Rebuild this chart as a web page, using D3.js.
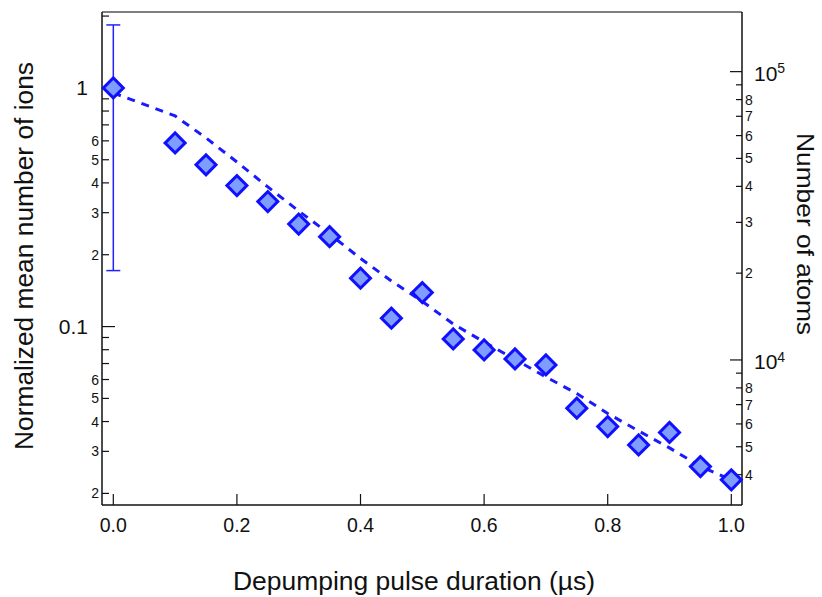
<!DOCTYPE html>
<html><head><meta charset="utf-8">
<script src="https://cdn.jsdelivr.net/npm/d3@7"></script>
<style>body{margin:0;background:#fff}svg{display:block}text{font-family:"Liberation Sans",Arial,sans-serif;fill:#111}</style>
</head><body>
<script>
// Data
const durations = [0.0,0.1,0.15,0.2,0.25,0.3,0.35,0.4,0.45,0.5,0.55,0.6,0.65,0.7,0.75,0.8,0.85,0.9,0.95,1.0];
const ions = [1.0,0.588,0.476,0.390,0.334,0.269,0.238,0.1595,0.1084,0.1388,0.0888,0.0798,0.0732,0.0691,0.0455,0.0381,0.0319,0.0360,0.0259,0.0228];
const atoms = [84350,70200,58880,48610,39820,32860,27340,22490,18790,15960,13330,11540,10040,8730,7650,6524,5671,4954,4272,3835];
const errX = [0.0];
const errLow = [0.1716];
const errHigh = [1.836];
const xTicks = [0.0,0.2,0.4,0.6,0.8,1.0];
const leftMajor = [1, 0.1];
const leftMinorLabeled = [0.6,0.5,0.4,0.3,0.2,0.06,0.05,0.04,0.03,0.02];
const rightMajor = [1e5, 1e4];

const W=822,H=597;
const L=102,R=742,T=12,B=505;
const svg=d3.select("body").append("svg").attr("width",W).attr("height",H);

const x=d3.scaleLinear().domain([-0.0183,1.0173]).range([L,R]);
const yL=d3.scaleLog().domain([0.01788,2.08]).range([B,T]);
const yR=d3.scaleLog().domain([3140,161000]).range([B,T]);

// frame
svg.append("line").attr("x1",L).attr("x2",R).attr("y1",T).attr("y2",T).attr("stroke","#555").attr("stroke-width",1.5);

const firstDigit=d=>String(Math.round(d/Math.pow(10,Math.floor(Math.log10(d)+1e-9))));

// Left axis
const leftTicks=[];
for(let d=-2; d<=0; d++){ for(let m=1;m<=9;m++){ const v=m*Math.pow(10,d); if(v>=0.0179 && v<=2.08) leftTicks.push(v);} }
const gL=svg.append("g");
gL.append("line").attr("x1",L).attr("x2",L).attr("y1",T).attr("y2",B).attr("stroke","#111").attr("stroke-width",1.5);
gL.selectAll("line.t").data(leftTicks).join("line").attr("class","t")
  .attr("x1",L).attr("x2",d=>L+(leftMajor.includes(d)?13:7))
  .attr("y1",d=>yL(d)).attr("y2",d=>yL(d)).attr("stroke","#111").attr("stroke-width",1.2);
gL.selectAll("text.maj").data(leftMajor).join("text").attr("class","maj")
  .attr("x",88).attr("y",d=>yL(d)).attr("dy","0.36em").attr("text-anchor","end")
  .style("font-size","21px").text(d=>d===1?"1":"0.1");
gL.selectAll("text.min").data(leftMinorLabeled).join("text").attr("class","min")
  .attr("x",99).attr("y",d=>yL(d)).attr("dy","0.36em").attr("text-anchor","end")
  .style("font-size","14px").text(firstDigit);

// Right axis
const rightTicks=[];
for(let d=3; d<=5; d++){ for(let m=1;m<=9;m++){ const v=m*Math.pow(10,d); if(v>=3140 && v<=161000) rightTicks.push(v);} }
const gR=svg.append("g");
gR.append("line").attr("x1",R).attr("x2",R).attr("y1",T).attr("y2",B).attr("stroke","#111").attr("stroke-width",1.5);
gR.selectAll("line.t").data(rightTicks).join("line").attr("class","t")
  .attr("x1",R).attr("x2",d=>R-(rightMajor.includes(d)?12:6))
  .attr("y1",d=>yR(d)).attr("y2",d=>yR(d)).attr("stroke","#111").attr("stroke-width",1.2);
const rMinorLab=rightTicks.filter(d=>!rightMajor.includes(d) && firstDigit(d)!=="9");
gR.selectAll("text.min").data(rMinorLab).join("text").attr("class","min")
  .attr("x",745).attr("y",d=>yR(d)).attr("dy","0.36em")
  .style("font-size","14px").text(firstDigit);
const rm=gR.selectAll("text.maj").data(rightMajor).join("text").attr("class","maj")
  .attr("x",754).attr("y",d=>yR(d)).attr("dy","0.45em").style("font-size","21px");
rm.append("tspan").text("10");
rm.append("tspan").attr("dy","-0.55em").style("font-size","14px").text(d=>String(Math.round(Math.log10(d))));

// Bottom axis
const gB=svg.append("g");
gB.append("line").attr("x1",L).attr("x2",R).attr("y1",B).attr("y2",B).attr("stroke","#111").attr("stroke-width",1.5);
gB.selectAll("line.t").data(xTicks).join("line").attr("class","t")
  .attr("x1",d=>x(d)).attr("x2",d=>x(d)).attr("y1",B).attr("y2",B-11).attr("stroke","#111").attr("stroke-width",1.2);
gB.selectAll("text").data(xTicks).join("text")
  .attr("x",d=>x(d)).attr("y",532).attr("text-anchor","middle").style("font-size","19.5px")
  .text(d=>d3.format(".1f")(d));

// Titles
svg.append("text").attr("x",414).attr("y",590).attr("text-anchor","middle").style("font-size","25px")
  .attr("textLength",362).attr("lengthAdjust","spacingAndGlyphs").text("Depumping pulse duration (µs)");
svg.append("text").attr("transform","translate(33,256) rotate(-90)").attr("text-anchor","middle").style("font-size","26px")
  .attr("textLength",388).attr("lengthAdjust","spacingAndGlyphs").text("Normalized mean number of ions");
svg.append("text").attr("transform","translate(797,234) rotate(90)").attr("text-anchor","middle").style("font-size","24px")
  .attr("textLength",202).attr("lengthAdjust","spacingAndGlyphs").text("Number of atoms");

// Dashed atoms line
const line=d3.line().x((d,i)=>x(durations[i])).y(d=>yR(d));
svg.append("path").datum(atoms).attr("d",line).attr("fill","none").attr("stroke","#1a1aff")
  .attr("stroke-width",3).attr("stroke-dasharray","8,7");

// Error bar
const eb=svg.append("g");
errX.forEach((ex,i)=>{
  eb.append("line").attr("x1",x(ex)).attr("x2",x(ex)).attr("y1",yL(errHigh[i])).attr("y2",yL(errLow[i])).attr("stroke","#2222ff").attr("stroke-width",1.5);
  [errHigh[i],errLow[i]].forEach(v=>eb.append("line").attr("x1",x(ex)-7).attr("x2",x(ex)+7).attr("y1",yL(v)).attr("y2",yL(v)).attr("stroke","#2222ff").attr("stroke-width",1.5));
});

// Diamonds
const sym=d3.symbol().type(d3.symbolSquare).size(200);
svg.selectAll("path.pt").data(ions).join("path").attr("class","pt")
  .attr("d",sym).attr("transform",(d,i)=>`translate(${x(durations[i])},${yL(d)}) rotate(45)`)
  .attr("fill","#7f9dff").attr("stroke","#1010ff").attr("stroke-width",3);
</script>
</body></html>
